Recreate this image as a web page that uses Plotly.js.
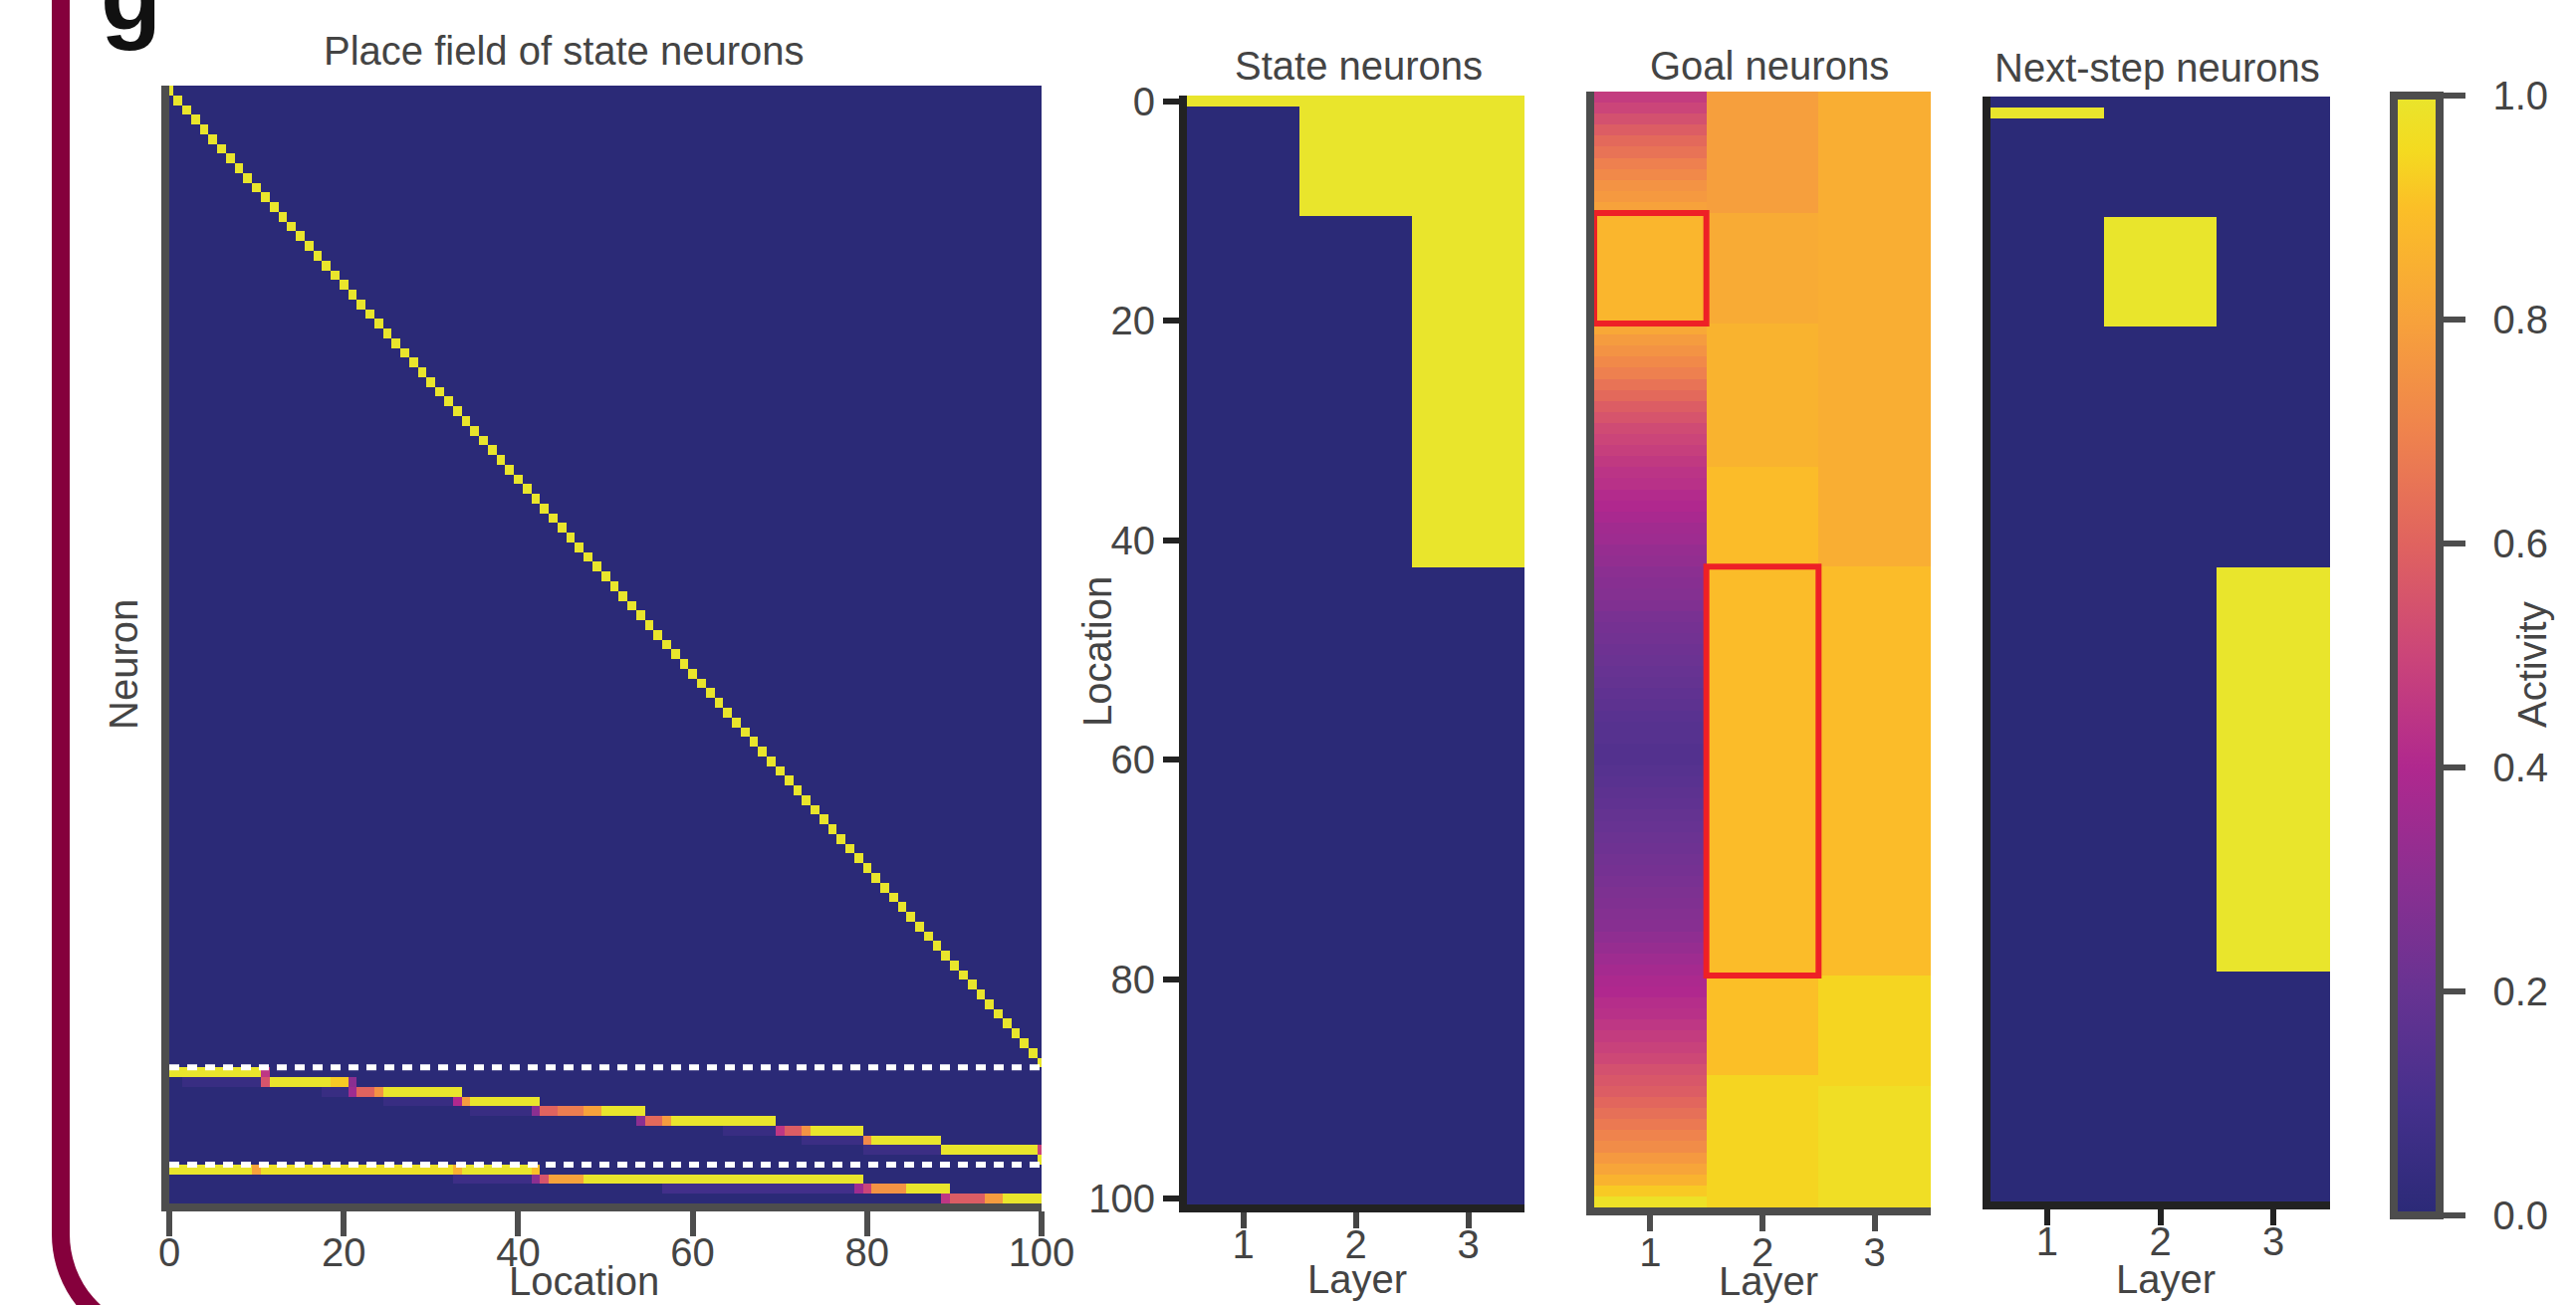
<!DOCTYPE html>
<html><head><meta charset="utf-8">
<script src="https://cdn.plot.ly/plotly-3.0.1.min.js"></script>
<style>html,body{margin:0;padding:0;background:#fff}#chart{width:2587px;height:1311px}</style>
</head><body><div id="chart"></div>
<script>
// ---------------- DATA ----------------
const locations = [0,1,2,3,4,5,6,7,8,9,10,11,12,13,14,15,16,17,18,19,20,21,22,23,24,25,26,27,28,29,30,31,32,33,34,35,36,37,38,39,40,41,42,43,44,45,46,47,48,49,50,51,52,53,54,55,56,57,58,59,60,61,62,63,64,65,66,67,68,69,70,71,72,73,74,75,76,77,78,79,80,81,82,83,84,85,86,87,88,89,90,91,92,93,94,95,96,97,98,99,100];
const layers = [1, 2, 3];
const layerTicks = ['1', '2', '3'];
const locationTicks = [0, 20, 40, 60, 80, 100];
const activityTicks = [0, 0.2, 0.4, 0.6, 0.8, 1.0];

// Layer-1 state neurons: one neuron per location, firing at its own location
const layer1Peaks = locations.slice();
// Layer-2 state neurons: place-field segments [from, to, activity]
const layer2Fields = [
  [[0,10,1.0],[11,11,0.45]],
  [[2,10,0.05],[11,11,0.55],[12,18,1.0],[19,20,0.92],[21,21,0.3]],
  [[18,20,0.05],[21,21,0.35],[22,23,0.6],[24,24,0.75],[25,33,1.0]],
  [[25,32,0.05],[33,33,0.4],[34,34,0.78],[35,42,1.0]],
  [[35,41,0.05],[42,42,0.3],[43,44,0.6],[45,47,0.68],[48,49,0.8],[50,54,1.0]],
  [[54,54,0.3],[55,56,0.62],[57,57,0.78],[58,69,1.0]],
  [[64,69,0.05],[70,70,0.45],[71,72,0.58],[73,73,0.75],[74,79,1.0]],
  [[73,79,0.06],[80,80,0.72],[81,88,1.0]],
  [[80,88,0.06],[89,99,1.0],[100,100,0.5]],
  [[100,100,1.0]]
];
// Layer-3 state neurons
const layer3Fields = [
  [[0,9,1.0],[10,10,0.8],[11,32,0.98],[33,33,0.85],[34,41,1.0],[42,42,0.9]],
  [[33,41,0.07],[42,42,0.3],[43,43,0.55],[44,47,0.8],[48,79,1.0]],
  [[57,78,0.09],[79,79,0.35],[80,80,0.5],[81,84,0.75],[85,89,1.0]],
  [[89,89,0.45],[90,93,0.58],[94,95,0.78],[96,100,1.0]]
];

// Activity by layer at agent location 0  (segments [from, to, activity])
const stateL1 = [[0,0,1.0]];
const stateL2 = [[0,10,1.0]];
const stateL3 = [[0,42,1.0]];

const nextL1 = [[1,1,1.0]];
const nextL2 = [[11,20,1.0]];
const nextL3 = [[43,79,1.0]];

const goalL1 = [0.47,0.50,0.54,0.58,0.62,0.65,0.69,0.72,0.75,0.77,0.80,
  0.87,0.87,0.87,0.87,0.87,0.87,0.87,0.87,0.87,0.87,
  0.82,0.78,0.75,0.72,0.69,0.65,0.62,0.58,0.55,0.52,
  0.50,0.48,0.46,0.44,0.43,0.41,0.40,0.38,0.36,0.35,
  0.33,0.32,0.30,0.29,0.28,0.27,0.25,0.24,0.23,0.22,
  0.21,0.20,0.19,0.18,0.17,0.16,0.15,0.15,0.14,0.14,
  0.15,0.16,0.17,0.18,0.19,0.20,0.21,0.22,0.23,0.24,
  0.25,0.26,0.27,0.28,0.29,0.31,0.33,0.35,0.37,0.39,
  0.40,0.42,0.43,0.45,0.47,0.49,0.51,0.54,0.56,0.58,
  0.61,0.64,0.67,0.70,0.73,0.77,0.81,0.86,0.92,0.98];
const goalL2 = [[0,10,0.79],[11,20,0.83],[21,33,0.86],[34,42,0.89],[43,79,0.89],[80,88,0.9],[89,100,0.94]];
const goalL3 = [[0,42,0.84],[43,79,0.89],[80,89,0.94],[90,100,0.97]];

// highlighted goal clusters: [layer, from, to]
const goalBoxes = [[1,11,20],[2,43,79]];

// ---------------- BUILD ----------------
const W = 2587, H = 1311;
const FONT = 'Liberation Sans, Arial, Helvetica, sans-serif';
const TXT = '#444444';
const colorscale = [
  [0.0,'#2B2A77'],[0.1,'#45308C'],[0.2,'#673392'],[0.3,'#8B2F91'],[0.4,'#B0288E'],
  [0.5,'#CB4579'],[0.6,'#E0635F'],[0.7,'#EF834D'],[0.8,'#F7A23B'],[0.9,'#FBBF27'],
  [0.95,'#F4DA20'],[1.0,'#E9E52C']
];

function segCol(segs){
  const c = locations.map(() => 0);
  segs.forEach(([a,b,v]) => { locations.forEach((l,i) => { if (l >= a && l <= b) c[i] = v; }); });
  return c;
}
// left panel matrix
const placeZ = [];
layer1Peaks.forEach(p => { const r = locations.map(l => (l === p ? 1 : 0)); placeZ.push(r); });
layer2Fields.forEach(s => placeZ.push(segCol(s)));
layer3Fields.forEach(s => placeZ.push(segCol(s)));
const neuronIdx = placeZ.map((_, i) => i);

function panelZ(cols){ return locations.map((_, i) => cols.map(c => c[i])); }
const stateZ = panelZ([segCol(stateL1), segCol(stateL2), segCol(stateL3)]);
const goalZ  = panelZ([goalL1, segCol(goalL2), segCol(goalL3)]);
const nextZ  = panelZ([segCol(nextL1), segCol(nextL2), segCol(nextL3)]);

const hm = (z, x, y, xa, ya, extra) => Object.assign({
  type:'heatmap', z, x, y, xaxis:xa, yaxis:ya, colorscale, zmin:0, zmax:1,
  zsmooth:false, showscale:false, hoverinfo:'skip'
}, extra || {});

const SP = '\u2002';
const data = [
  hm(placeZ, locations, neuronIdx, 'x', 'y'),
  hm(stateZ, layers, locations, 'x2', 'y2'),
  hm(goalZ, layers, locations, 'x3', 'y3'),
  hm(nextZ, layers, locations, 'x4', 'y4', {
    showscale:true,
    colorbar:{
      thickness:46, thicknessmode:'pixels', len:1125, lenmode:'pixels',
      x:2404/W, xanchor:'left', xref:'paper', y:1-658.5/H, yanchor:'middle', yref:'paper',
      xpad:0, ypad:0, outlinewidth:8, outlinecolor:'#4d4d4d', borderwidth:0,
      ticks:'outside', ticklen:22, tickwidth:6, tickcolor:'#4d4d4d',
      tickvals:activityTicks, ticktext:activityTicks.map(v => SP + v.toFixed(1)),
      tickfont:{family:FONT, size:40, color:TXT}
    }
  })
];

const px = v => v / W, py = v => 1 - v / H;
function xax(d0, d1, range, tickvals, ticktext, lineColor, tickColor, ticklen, standoff){
  return {domain:[px(d0), px(d1)], range, tickvals, ticktext, ticks:'outside', ticklen, tickwidth:6,
    tickcolor:tickColor, showline:true, linecolor:lineColor, linewidth:8, showgrid:false, zeroline:false,
    ticklabelstandoff:standoff,
    tickfont:{family:FONT, size:40, color:TXT}, fixedrange:true, automargin:false};
}
function yax(top, bot, range, lineColor, opts){
  return Object.assign({domain:[py(bot), py(top)], range, showline:true, linecolor:lineColor, linewidth:8,
    showgrid:false, zeroline:false, showticklabels:false, ticks:'', fixedrange:true, automargin:false}, opts || {});
}

const nAll = placeZ.length;
const shapes = [];
// dashed separators between layers of state neurons
[layer1Peaks.length - 0.5, layer1Peaks.length + layer2Fields.length - 0.5].forEach(yv => {
  shapes.push({type:'line', xref:'x', yref:'y', x0:locations[0], x1:locations[locations.length-1], y0:yv, y1:yv,
    line:{color:'#ffffff', width:6, dash:'10px,8px'}});
});
// red goal boxes
goalBoxes.forEach(([lay, a, b]) => {
  shapes.push({type:'rect', xref:'x3', yref:'y3', x0:lay - 0.5, x1:lay + 0.5, y0:a - 0.5, y1:b + 0.5,
    line:{color:'#EE2026', width:6}, fillcolor:'rgba(0,0,0,0)'});
});
// maroon panel border
shapes.push({type:'path', xref:'paper', yref:'paper', layer:'above',
  path:`M ${px(61)},${py(-30)} L ${px(61)},${py(1240)} C ${px(61)},${py(1292)} ${px(100)},${py(1340)} ${px(152)},${py(1340)} L ${px(2700)},${py(1340)}`,
  line:{color:'#85003C', width:18}});

const ann = (text, x, y, opts) => Object.assign({text, x:px(x), y:py(y), xref:'paper', yref:'paper',
  showarrow:false, xanchor:'center', yanchor:'middle', borderpad:0, font:{family:FONT, size:40, color:TXT}}, opts || {});

const annotations = [
  ann('Place field of state neurons', 566, 51),
  ann('State neurons', 1365, 66),
  ann('Goal neurons', 1777, 66),
  ann('Next-step neurons', 2166, 68),
  ann('Neuron', 124, 668, {textangle:-90}),
  ann('Location', 1102, 655, {textangle:-90}),
  ann('Location', 586, 1287),
  ann('Layer', 1363, 1285),
  ann('Layer', 1776, 1287),
  ann('Layer', 2175, 1285),
  ann('Activity', 2543, 668, {textangle:-90}),
  ann('<b>g</b>', 100, 52, {xanchor:'left', yanchor:'bottom', font:{family:FONT, size:100, color:'#111'}})
];

const layout = {
  width:W, height:H, margin:{l:0, r:0, t:0, b:0, pad:0},
  paper_bgcolor:'#ffffff', plot_bgcolor:'rgba(0,0,0,0)', showlegend:false,
  font:{family:FONT, size:40, color:TXT},
  xaxis: xax(170, 1046, [0, 100], locationTicks, locationTicks.map(String), '#4d4d4d', '#4d4d4d', 25, -18),
  yaxis: yax(86, 1209, [nAll - 0.5, -0.5], '#4d4d4d'),
  xaxis2: Object.assign(xax(1192, 1531, [0.5, 3.5], layers, layerTicks, '#222222', '#444444', 16, -18), {anchor:'y2'}),
  yaxis2: yax(96, 1210, [100.5, -0.5], '#222222', {anchor:'x2', showticklabels:true, ticks:'outside', ticklen:16, tickwidth:6,
    tickcolor:'#222222', tickvals:locationTicks, ticktext:locationTicks.map(String), tickfont:{family:FONT, size:40, color:TXT}}),
  xaxis3: Object.assign(xax(1601, 1939, [0.5, 3.5], layers, layerTicks, '#4d4d4d', '#4d4d4d', 16, -13), {anchor:'y3'}),
  yaxis3: yax(92, 1213, [100.5, -0.5], '#4d4d4d', {anchor:'x3'}),
  xaxis4: Object.assign(xax(1999, 2340, [0.5, 3.5], layers, layerTicks, '#222222', '#222222', 16, -18), {anchor:'y4'}),
  yaxis4: yax(97, 1207, [100.5, -0.5], '#222222', {anchor:'x4'}),
  shapes, annotations
};
layout.xaxis.anchor = 'y';
layout.yaxis.anchor = 'x';

Plotly.newPlot('chart', data, layout, {displayModeBar:false, staticPlot:true});
</script></body></html>
